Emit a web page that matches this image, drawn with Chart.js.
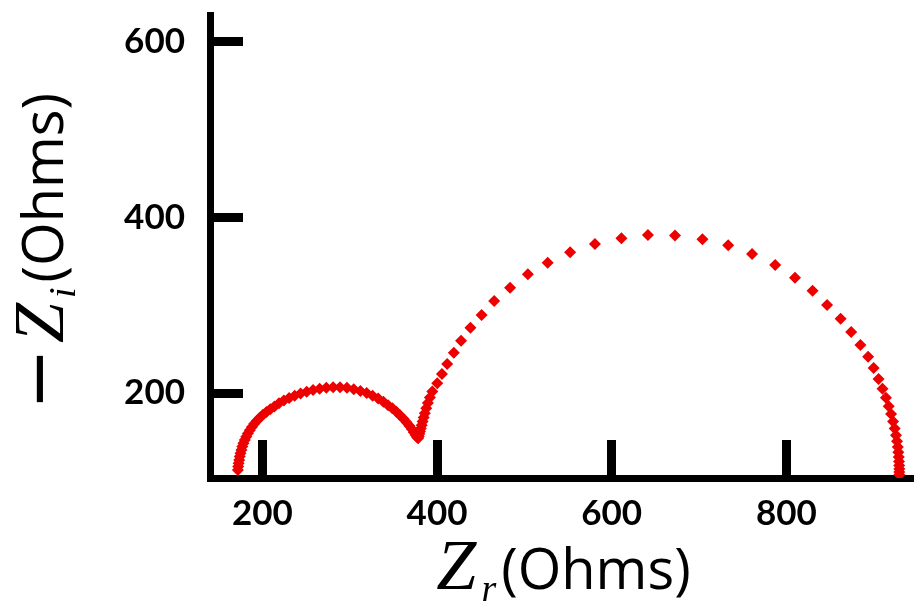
<!DOCTYPE html>
<html>
<head>
<meta charset="utf-8">
<script src="https://cdn.jsdelivr.net/npm/chart.js@4.4.1/dist/chart.umd.min.js"></script>
<style>
  html, body { margin: 0; padding: 0; background: #fff; }
  #wrap { width: 919px; height: 605px; position: relative; }
</style>
</head>
<body>
<div id="wrap"><canvas id="chart"></canvas></div>
<script>
const zr = [
  // first arc
  171.9, 172.3, 172.8, 173.4, 174.1, 174.9, 175.9, 177.0, 178.3, 179.8,
  181.5, 183.4, 185.6, 188.0, 190.7, 193.7, 197.0, 200.6, 204.6, 209.0,
  213.8, 219.0, 224.6, 230.6, 237.0, 243.7, 250.7, 258.0, 265.5, 273.2,
  281.0, 288.9, 296.8, 304.6, 312.2, 319.4, 326.2, 332.6, 338.5, 343.9,
  348.8, 353.4, 357.6, 361.5, 365.0, 368.2, 371.0, 373.4, 375.4, 377.0, 378.3,
  // second arc
  379.0, 379.7, 380.5, 381.4, 382.4, 383.5, 384.7, 386.0, 387.6, 389.5,
  391.8, 394.6, 400.2, 405.6, 411.6, 419.2, 427.5, 438.2, 451.0, 465.4,
  483.6, 504.0, 526.7, 552.4, 580.8, 611.1, 641.5, 672.5, 703.9, 733.4,
  760.7, 787.2, 809.9, 830.0, 846.6, 862.1, 874.2, 884.8, 893.6, 899.9,
  905.6, 910.1, 914.0, 917.2, 919.9, 922.2, 924.0, 925.5, 926.7, 927.6,
  928.2, 928.7, 929.0, 929.2, 929.3, 929.3, 929.3
];
const zi = [
  112.3, 116.2, 120.0, 123.8, 127.6, 131.4, 135.2, 139.0, 142.8, 146.6,
  150.3, 154.0, 157.7, 161.3, 164.9, 168.4, 171.8, 175.1, 178.3, 181.4,
  184.6, 188.2, 191.5, 194.3, 196.8, 199.3, 201.5, 203.3, 204.8, 205.9,
  206.5, 206.6, 205.9, 204.4, 202.4, 199.9, 197.0, 193.7, 190.0, 186.0,
  182.5, 178.6, 174.6, 170.6, 166.6, 162.7, 158.9, 155.3, 152.2, 149.9, 148.4,
  150.6, 153.2, 156.2, 159.6, 163.4, 167.6, 172.2, 177.0, 182.5, 188.5,
  195.0, 201.8, 211.0, 221.6, 233.0, 245.9, 259.6, 274.4, 288.8, 304.8,
  319.9, 335.2, 348.4, 360.3, 369.7, 376.2, 379.9, 379.5, 375.1, 368.2,
  358.3, 345.8, 331.3, 316.5, 300.2, 284.6, 269.5, 254.7, 241.3, 228.5,
  215.9, 204.9, 194.6, 185.0, 176.0, 167.5, 159.5, 152.0, 145.0, 138.5,
  132.5, 127.0, 122.0, 117.5, 113.5, 110.0, 107.0
];
const xTickValues = [200, 400, 600, 800];
const yTickValues = [200, 400, 600];
const xTitle = [['Z', 'sym'], ['r', 'sub'], ['(Ohms)', 'word']];
const yTitle = [['\u2212', 'minus'], ['Z', 'sym'], ['i', 'sub'], ['(Ohms)', 'word']];

const titleFonts = {
  minus: '74px "DejaVu Sans"',
  sym: 'italic 72px "Liberation Serif"',
  sub: 'italic 38px "Liberation Serif"',
  word: '56px "Open Sans"'
};

/** Draws a title made of mixed-font pieces, centred on (cx, base). */
function drawRichTitle(ctx, parts, cx, base, angle) {
  ctx.save();
  ctx.translate(cx, base);
  ctx.rotate(angle);
  ctx.fillStyle = '#000';
  ctx.textAlign = 'left';
  ctx.textBaseline = 'alphabetic';
  const gap = 5;
  const widths = parts.map(([text, kind]) => {
    ctx.font = titleFonts[kind];
    return ctx.measureText(text).width;
  });
  let x = -(widths.reduce((a, b) => a + b, 0) + gap * (parts.length - 1)) / 2;
  parts.forEach(([text, kind], i) => {
    ctx.font = titleFonts[kind];
    ctx.fillText(text, x, kind === 'sub' ? 12 : 0);
    x += widths[i] + gap;
  });
  ctx.restore();
}

const axisTitles = {
  id: 'axisTitles',
  afterDraw(chart) {
    const {ctx, chartArea} = chart;
    drawRichTitle(ctx, xTitle, (chartArea.left + chartArea.right) / 2 + 2, 589, 0);
    drawRichTitle(ctx, yTitle, 63, (chartArea.top + chartArea.bottom) / 2 + 5, -Math.PI / 2);
  }
};

const tickFont = {family: 'Lato', weight: 'bold', size: 35};

const config = {
  type: 'scatter',
  data: {
    datasets: [{
      data: zr.map((x, i) => ({x: x, y: zi[i]})),
      pointStyle: 'rectRot',
      pointRadius: 6,
      backgroundColor: '#ec0000',
      borderColor: '#ec0000',
      borderWidth: 0,
      showLine: false
    }]
  },
  options: {
    responsive: true,
    maintainAspectRatio: false,
    animation: false,
    events: [],
    layout: {padding: {top: 15, right: 0, bottom: 0, left: 0}},
    plugins: {
      legend: {display: false},
      tooltip: {enabled: false}
    },
    scales: {
      x: {
        type: 'linear',
        position: 'bottom',
        min: 140,
        max: 945,
        afterBuildTicks: s => { s.ticks = xTickValues.map(v => ({value: v})); },
        afterFit: s => { s.height = 127; s.paddingLeft = 0; s.paddingRight = 0; },
        grid: {drawOnChartArea: false, drawTicks: true, tickLength: -38, tickWidth: 9, tickColor: '#000'},
        border: {display: true, width: 7, color: '#000'},
        ticks: {font: tickFont, color: '#000', padding: 53, maxRotation: 0, autoSkip: false}
      },
      y: {
        type: 'linear',
        position: 'left',
        min: 103.2,
        max: 630.5,
        afterBuildTicks: s => { s.ticks = yTickValues.map(v => ({value: v})); },
        afterFit: s => { s.width = 210; s.paddingTop = 0; s.paddingBottom = 0; },
        grid: {drawOnChartArea: false, drawTicks: true, tickLength: -33, tickWidth: 9, tickColor: '#000'},
        border: {display: true, width: 7, color: '#000'},
        ticks: {font: tickFont, color: '#000', padding: 58, autoSkip: false}
      }
    }
  },
  plugins: [axisTitles]
};

new Chart(document.getElementById('chart'), config);
</script>
</body>
</html>
